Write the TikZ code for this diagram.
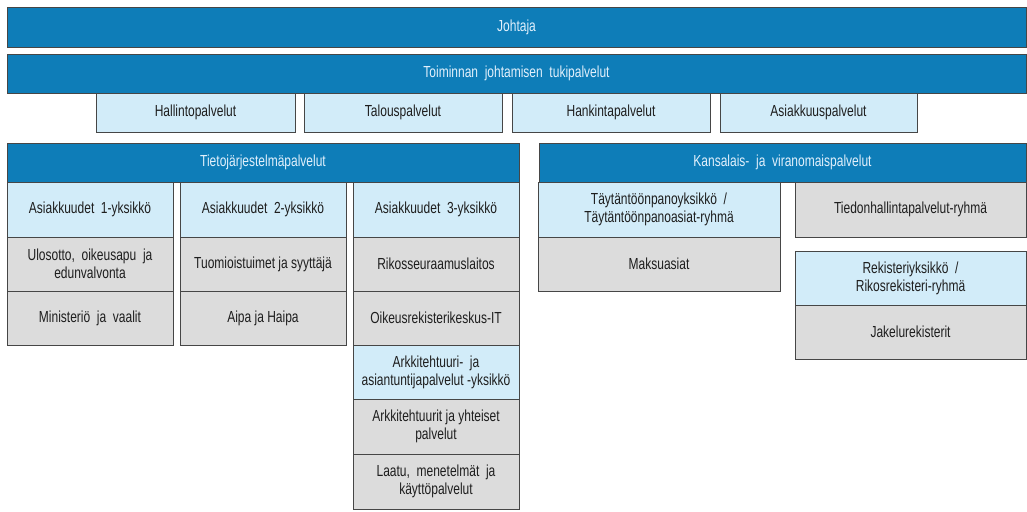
\documentclass[tikz,border=0pt]{standalone}
\usepackage{fontspec}
\setmainfont[FakeStretch=0.75]{Liberation Sans}
\definecolor{barblue}{RGB}{14,125,184}
\definecolor{unitblue}{RGB}{210,236,249}
\definecolor{teamgray}{RGB}{220,220,220}
\definecolor{edgegray}{RGB}{70,70,70}
\tikzset{every picture/.style={line width=0.75pt}}
\tikzset{
  box/.style={draw=edgegray, line width=0.6pt, anchor=north west, inner sep=0pt, outer sep=0pt, align=center, font=\fontsize{12}{13.5}\selectfont},
  bar/.style={box, fill=barblue, text={rgb,255:red,225;green,240;blue,252}},
  unit/.style={box, fill=unitblue, text={rgb,255:red,30;green,30;blue,30}},
  team/.style={box, fill=teamgray, text={rgb,255:red,30;green,30;blue,30}}
}

\begin{document}
\begin{tikzpicture}[x=0.75pt,y=0.75pt,yscale=-1,xscale=1]
        \useasboundingbox (0,0) rectangle (1027,511);
        % Top bars
        \node [bar, minimum width=1019*0.75pt, minimum height=40*0.75pt] (johtaja) at (7,7) {Johtaja};
        \node [bar, minimum width=1019*0.75pt, minimum height=39*0.75pt] (tuki) at (7,54) {Toiminnan \ johtamisen \ tukipalvelut};
        % Support services
        \node [unit, minimum width=199*0.75pt, minimum height=39*0.75pt] (hallinto) at (96,93) {Hallintopalvelut};
        \node [unit, minimum width=198*0.75pt, minimum height=39*0.75pt] (talous) at (304,93) {Talouspalvelut};
        \node [unit, minimum width=198*0.75pt, minimum height=39*0.75pt] (hankinta) at (512,93) {Hankintapalvelut};
        \node [unit, minimum width=197*0.75pt, minimum height=39*0.75pt] (asiakkuus) at (720,93) {Asiakkuuspalvelut};
        % Tietojarjestelmapalvelut
        \node [bar, minimum width=512*0.75pt, minimum height=39*0.75pt] (tieto) at (7,143) {Tietojärjestelmäpalvelut};
        \node [unit, minimum width=166*0.75pt, minimum height=55*0.75pt] (as1) at (7,182) {Asiakkuudet \ 1-yksikkö};
        \node [team, minimum width=166*0.75pt, minimum height=54*0.75pt] (ulosotto) at (7,237) {Ulosotto, \ oikeusapu \ ja\\edunvalvonta};
        \node [team, minimum width=166*0.75pt, minimum height=54*0.75pt] (ministerio) at (7,291) {Ministeriö \ ja \ vaalit};
        \node [unit, minimum width=166*0.75pt, minimum height=55*0.75pt] (as2) at (180,182) {Asiakkuudet \ 2-yksikkö};
        \node [team, minimum width=166*0.75pt, minimum height=54*0.75pt] (tuomio) at (180,237) {Tuomioistuimet ja syyttäjä};
        \node [team, minimum width=166*0.75pt, minimum height=54*0.75pt] (aipa) at (180,291) {Aipa ja Haipa};
        \node [unit, minimum width=166*0.75pt, minimum height=55*0.75pt] (as3) at (353,182) {Asiakkuudet \ 3-yksikkö};
        \node [team, minimum width=166*0.75pt, minimum height=54*0.75pt] (rikos) at (353,237) {Rikosseuraamuslaitos};
        \node [team, minimum width=166*0.75pt, minimum height=54*0.75pt] (orek) at (353,291) {Oikeusrekisterikeskus-IT};
        \node [unit, minimum width=166*0.75pt, minimum height=54*0.75pt] (arkyks) at (353,345) {Arkkitehtuuri- \ ja\\asiantuntijapalvelut -yksikkö};
        \node [team, minimum width=166*0.75pt, minimum height=55*0.75pt] (arkyht) at (353,399) {Arkkitehtuurit ja yhteiset\\palvelut};
        \node [team, minimum width=166*0.75pt, minimum height=55*0.75pt] (laatu) at (353,454) {Laatu, \ menetelmät \ ja\\käyttöpalvelut};
        % Kansalais- ja viranomaispalvelut
        \node [bar, minimum width=487*0.75pt, minimum height=39*0.75pt] (kansalais) at (539,143) {Kansalais- \ ja \ viranomaispalvelut};
        \node [unit, minimum width=242*0.75pt, minimum height=55*0.75pt] (taytanto) at (538,182) {Täytäntöönpanoyksikkö \ /\\Täytäntöönpanoasiat-ryhmä};
        \node [team, minimum width=242*0.75pt, minimum height=54*0.75pt] (maksu) at (538,237) {Maksuasiat};
        \node [team, minimum width=231*0.75pt, minimum height=55*0.75pt] (tiedon) at (795,182) {Tiedonhallintapalvelut-ryhmä};
        \node [unit, minimum width=231*0.75pt, minimum height=54*0.75pt] (rekisteri) at (795,251) {Rekisteriyksikkö \ /\\Rikosrekisteri-ryhmä};
        \node [team, minimum width=231*0.75pt, minimum height=54*0.75pt] (jakelu) at (795,305) {Jakelurekisterit};
\end{tikzpicture}
\end{document}
